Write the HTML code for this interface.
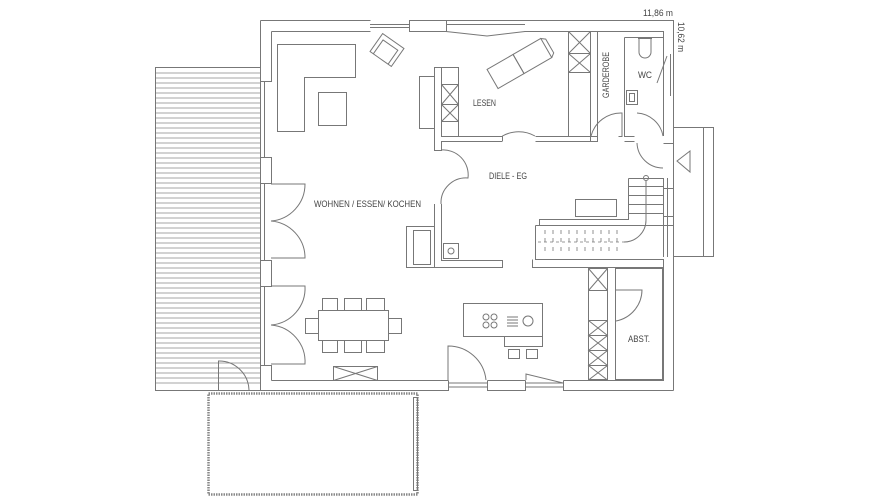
<!DOCTYPE html>
<html><head><meta charset="utf-8"><style>
html,body{margin:0;padding:0;background:#fff;}
svg{display:block}
text{font-family:"Liberation Sans",sans-serif;fill:#444;font-size:9px}
</style></head><body>
<svg width="870" height="504" viewBox="0 0 870 504" xmlns="http://www.w3.org/2000/svg">
<g fill="none" stroke="#777" stroke-width="1">
<rect x="155.5" y="67.5" width="105" height="323"/>
<g stroke="#888" stroke-width="0.8">
<path d="M156 73H260M156 78H260M156 83H260M156 88H260M156 93H260M156 98H260M156 103H260M156 108H260M156 113H260M156 118H260M156 123H260M156 128H260M156 133H260M156 138H260M156 143H260M156 148H260M156 153H260M156 158H260M156 163H260M156 168H260M156 173H260M156 178H260M156 183H260M156 188H260M156 193H260M156 198H260M156 203H260M156 208H260M156 213H260M156 218H260M156 223H260M156 228H260M156 233H260M156 238H260M156 243H260M156 248H260M156 253H260M156 258H260M156 263H260M156 268H260M156 273H260M156 278H260M156 283H260M156 288H260M156 293H260M156 298H260M156 303H260M156 308H260M156 313H260M156 318H260M156 323H260M156 328H260M156 333H260M156 338H260M156 343H260M156 348H260M156 353H260M156 358H260M156 363H260M156 368H260M156 373H260M156 378H260M156 383H260"/>
</g>
<rect x="208.5" y="393.5" width="209" height="101" stroke="#888" stroke-width="2.5" stroke-dasharray="1.5 1"/>
<rect x="413.5" y="397.5" width="4" height="93"/>
<path d="M260.5 20.5H370.5M271.5 31.5H370.5M260.5 20.5V81.5H271.5V31.5"/>
<path d="M370 24.5H409M370 27.5H409M409.5 20.5H446.5V31.5H409.5Z"/>
<path d="M446 20.5H525M446 24.5H525M446 31.5L487 36L525 31.5"/>
<path d="M524.5 20.5H673.5V390.5M524.5 31.5H663.5V136"/>
<path d="M260.5 81V158M264.5 81V158M260.5 157.5H271.5V183.5H260.5Z"/>
<path d="M260.5 184V260M264.5 184V260M260.5 260.5H271.5V286.5H260.5Z"/>
<path d="M260.5 286V365M264.5 286V365M260.5 365.5H271.5V380.5"/>
<path d="M260.5 365V391M271.5 380.5H448.5M249 390.5H448.5V380.5"/>
<path d="M448 383H487M448 387H487M487.5 380.5V390.5H525.5V380.5M487.5 380.5H525.5"/>
<path d="M525 383H563M525 387H563M563.5 380.5V390.5H673.5M563.5 380.5H663.5V259"/>
<path d="M218.5 390V361A30 30 0 0 1 249 390"/>
<path d="M271 184H305A37 37 0 0 1 271 221M271 258H305A37 37 0 0 0 271 221" />
<path d="M271 286H305A37 37 0 0 1 271 325M271 364H305A37 37 0 0 0 271 325"/>
<path d="M277.5 44.5H355.5V77.5H304.5V131.5H277.5Z"/>
<rect x="318.5" y="92.5" width="28" height="33"/>
<g transform="translate(387 50) rotate(35)"><rect x="-13" y="-11" width="26" height="22"/><path d="M-9 11V-6H9V11"/></g>
<rect x="419.5" y="76.5" width="15" height="52"/>
<path d="M434.5 67V136.5M441.5 67V136.5M434.5 67.5H441.5"/>
<rect x="441.5" y="67.5" width="17" height="69"/>
<path d="M441.5 84.5H458.5M441.5 84.5L458.5 104.5M458.5 84.5L441.5 104.5M441.5 104.5H458.5M441.5 121.5H458.5M441.5 104.5L458.5 121.5M458.5 104.5L441.5 121.5"/>
<path d="M441.5 136.5H502.5M441.5 141.5H502.5M434.5 136V150.5H441.5V141"/>
<path d="M535.5 136.5H568.5M535.5 141.5H590.5V136"/>
<path d="M502.5 141V136A33 33 0 0 1 535 136"/>
<g transform="translate(522 62) rotate(-30)"><rect x="-34" y="-11" width="30" height="22"/><rect x="-4" y="-11" width="32" height="22"/><path d="M28 -11L32 -8V8L28 11"/></g>
<rect x="568.5" y="31.5" width="22" height="105"/>
<path d="M568.5 53.5H590.5M568.5 72.5H590.5M568.5 31.5L590.5 53.5M590.5 31.5L568.5 53.5M568.5 53.5L590.5 72.5M590.5 53.5L568.5 72.5"/>
<path d="M597.5 31.5V136.5H590.5M597.5 136.5V141.5H590.5"/>
<path d="M591 136A31 31 0 0 1 622 113V136.5H618.5"/>
<path d="M624.5 37.5H663.5M624.5 37.5V136.5H634.5M624.5 141.5H634.5"/>
<path d="M639 38V52A6 6 0 0 0 651 52V38M638 38.5H652"/>
<rect x="626.5" y="90.5" width="11" height="14"/><rect x="629.5" y="93.5" width="5" height="8"/>
<path d="M663.5 54V96M670.5 54V96M667 56L657 83"/>
<path d="M663 136A28 28 0 0 0 637 113"/>
<path d="M637 143A26 26 0 0 0 663 168"/>
<path d="M663.5 143.5H673.5"/>
<path d="M673.5 127.5H713.5V256.5H673.5M703.5 127.5V256.5"/>
<path d="M677 161L690 151V172Z"/>
<path d="M663.5 178V257M667.5 178V257M663.5 188.5H673.5M663.5 216.5H673.5M663.5 225.5H673.5"/>
<path d="M628.5 178.5H663.5M628.5 178.5V219.5H539.5V225.5"/>
<path d="M628.5 186.5H663M628.5 195.5H663M628.5 204.5H663M628.5 213.5H663"/>
<path d="M535.5 225.5H663.5M535.5 225.5V259.5H663.5" />
<path d="M532.5 259.5V267.5H663.5" />
<g stroke-width="0.8"><path d="M545 230V234M553 230V234M561 230V234M569 230V234M577 230V234M585 230V234M593 230V234M601 230V234M609 230V234M617 230V234M545 238V242M553 238V242M561 238V242M569 238V242M577 238V242M585 238V242M593 238V242M601 238V242M609 238V242M617 238V242M545 247V251M553 247V251M561 247V251M569 247V251M577 247V251M585 247V251M593 247V251M601 247V251M609 247V251M617 247V251"/></g>
<path d="M538 242H624" stroke-dasharray="3 3" stroke-width="0.8"/>
<path d="M646 181V220A22 22 0 0 1 624 242" />
<circle cx="646" cy="178" r="2.5"/>
<rect x="575.5" y="199.5" width="41" height="17"/>
<path d="M434.5 204V268M441.5 204V260.5H502.5V267.5H406.5"/>
<path d="M441 150A25 25 0 0 1 468 178A25 25 0 0 0 441 204"/>
<rect x="406.5" y="226.5" width="28" height="41"/><rect x="413.5" y="230.5" width="17" height="34"/>
<rect x="443.5" y="243.5" width="15" height="15"/><circle cx="451" cy="251" r="3"/>
<rect x="588.5" y="268.5" width="19" height="22"/>
<path d="M588.5 268.5L607.5 290.5M607.5 268.5L588.5 290.5"/>
<path d="M588.5 290.5V320.5M607.5 290.5V320.5"/>
<rect x="588.5" y="320.5" width="19" height="59"/>
<path d="M588.5 320.5L607.5 335.5L588.5 350.5L607.5 365.5L588.5 380M607.5 320.5L588.5 335.5L607.5 350.5L588.5 365.5L607.5 380M588.5 335.5H607.5M588.5 350.5H607.5M588.5 365.5H607.5"/>
<rect x="615.5" y="268.5" width="47" height="111"/>
<path d="M616 290H642A32 32 0 0 1 616 321"/>
<rect x="318.5" y="310.5" width="70" height="30"/>
<path d="M322.5 310V298.5H337.5V310M344.5 310V298.5H361.5V310M366.5 310V298.5H384.5V310"/>
<path d="M322.5 341V352.5H337.5V341M344.5 341V352.5H361.5V341M366.5 341V352.5H384.5V341"/>
<path d="M318 318.5H305.5V333.5H318M389 318.5H401.5V333.5H389"/>
<rect x="333.5" y="366.5" width="44" height="14"/><path d="M333.5 366.5L377.5 380.5M377.5 366.5L333.5 380.5"/>
<rect x="463.5" y="303.5" width="79" height="33"/>
<path d="M504.5 337V346.5H542.5V337"/>
<rect x="508.5" y="349.5" width="11" height="9"/><rect x="526.5" y="349.5" width="11" height="9"/>
<circle cx="486" cy="317" r="3"/><circle cx="494" cy="317" r="3"/><circle cx="486" cy="325" r="3"/><circle cx="494" cy="325" r="3"/>
<path d="M507 317H518M507 320H518M507 323H518M507 326H518"/><circle cx="528" cy="321" r="5"/>
<path d="M448 380V346A38 38 0 0 1 486 380"/>
<path d="M526 380V374L563 383"/>
</g>
<text x="314" y="207" textLength="107" lengthAdjust="spacingAndGlyphs">WOHNEN / ESSEN/ KOCHEN</text>
<text x="473" y="106" textLength="23" lengthAdjust="spacingAndGlyphs">LESEN</text>
<text x="489" y="179" textLength="38" lengthAdjust="spacingAndGlyphs">DIELE - EG</text>
<text x="638" y="78" textLength="14" lengthAdjust="spacingAndGlyphs">WC</text>
<text x="628" y="342" textLength="22" lengthAdjust="spacingAndGlyphs">ABST.</text>
<text x="609" y="98" transform="rotate(-90 609 98)" textLength="46" lengthAdjust="spacingAndGlyphs">GARDEROBE</text>
<text x="643" y="16" font-size="8" textLength="30" lengthAdjust="spacingAndGlyphs">11,86 m</text>
<text x="678" y="22" font-size="8" transform="rotate(90 678 22)" textLength="30" lengthAdjust="spacingAndGlyphs">10,62 m</text>
</svg>
</body></html>
